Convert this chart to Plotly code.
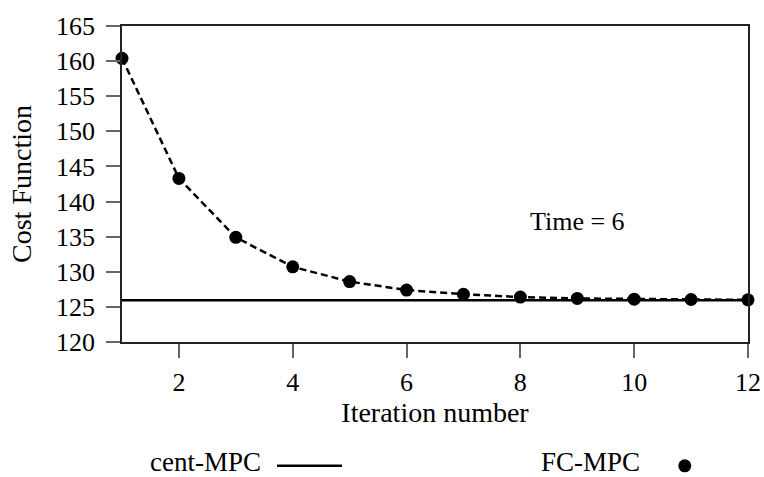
import plotly.graph_objects as go

iterations = [1, 2, 3, 4, 5, 6, 7, 8, 9, 10, 11, 12]
fc_mpc = [160.4, 143.3, 134.9, 130.7, 128.6, 127.4, 126.8, 126.4, 126.2, 126.1, 126.05, 126.0]
cent_mpc = 125.95
x_ticks = [2, 4, 6, 8, 10, 12]
y_ticks = [120, 125, 130, 135, 140, 145, 150, 155, 160, 165]

FONT = "'Liberation Serif', 'DejaVu Serif', 'Times New Roman', serif"
LEG_TEXT_Y = -0.381
LEG_MARK_Y = -0.392

fig = go.Figure()
fig.add_trace(go.Scatter(
    x=[iterations[0], iterations[-1]], y=[cent_mpc, cent_mpc],
    mode="lines", line=dict(color="black", width=2.5), name="cent-MPC",
    showlegend=False, cliponaxis=False))
fig.add_trace(go.Scatter(
    x=iterations, y=fc_mpc, mode="lines+markers",
    line=dict(color="black", width=2.5, dash="7px,4px"),
    marker=dict(color="black", size=13), name="FC-MPC",
    showlegend=False, cliponaxis=False))

fig.add_annotation(x=9, y=137.2, text="Time = 6", showarrow=False,
                   font=dict(family=FONT, size=26, color="black"))

# manual legend (text to the left of the symbol)
fig.add_annotation(xref="paper", yref="paper", x=0.0415, y=LEG_TEXT_Y, xanchor="left",
                   yanchor="middle", text="cent-MPC", showarrow=False,
                   font=dict(family=FONT, size=27, color="black"))
fig.add_shape(type="line", xref="paper", yref="paper", x0=0.2476, x1=0.3514,
              y0=LEG_MARK_Y, y1=LEG_MARK_Y, line=dict(color="black", width=2.5))
fig.add_annotation(xref="paper", yref="paper", x=0.666, y=LEG_TEXT_Y, xanchor="left",
                   yanchor="middle", text="FC-MPC", showarrow=False,
                   font=dict(family=FONT, size=27, color="black"))
fig.add_shape(type="circle", xref="paper", yref="paper", xsizemode="pixel",
              ysizemode="pixel", xanchor=0.899, yanchor=LEG_MARK_Y,
              x0=-6.5, x1=6.5, y0=-6.5, y1=6.5, fillcolor="black", line=dict(width=0))

axis_common = dict(showgrid=False, zeroline=False, showline=True, linecolor="#222",
                   linewidth=1.5, mirror=True, ticks="outside", ticklen=14,
                   tickwidth=1.5, tickcolor="#666", automargin=False,
                   tickfont=dict(family=FONT, size=26, color="black"))
fig.update_xaxes(range=[1, 12], tickvals=x_ticks, ticklabelstandoff=2,
                 title=dict(text="Iteration number", font=dict(family=FONT, size=28, color="black"),
                            standoff=6), **axis_common)
fig.update_yaxes(range=[120, 165], tickvals=y_ticks, ticklabelstandoff=6,
                 title=dict(text="Cost Function", font=dict(family=FONT, size=28, color="black"),
                            standoff=16), **axis_common)

fig.update_layout(width=764, height=477, margin=dict(l=122, r=16, t=26, b=135),
                  plot_bgcolor="white", paper_bgcolor="white",
                  font=dict(family=FONT, size=26, color="black"))
fig.write_html("out.html")
